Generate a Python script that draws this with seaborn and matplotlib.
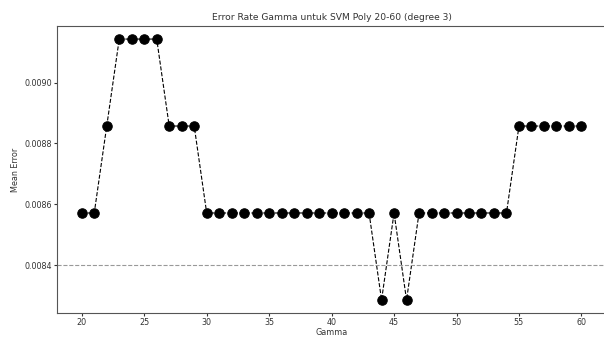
import matplotlib
matplotlib.use("Agg")
import matplotlib.pyplot as plt
import seaborn as sns
import pandas as pd

gamma = list(range(20, 61))
# misclassified counts out of 3500 test samples
errors = [30, 30, 31, 32, 32, 32, 32, 31, 31, 31,
          30, 30, 30, 30, 30, 30, 30, 30, 30, 30,
          30, 30, 30, 30, 29, 30, 29, 30, 30, 30,
          30, 30, 30, 30, 30, 31, 31, 31, 31, 31, 31]
mean_error = [e / 3500 for e in errors]
ref_line = 0.0084

df = pd.DataFrame({'Gamma': gamma, 'Mean Error': mean_error})

sns.set_style('white')
plt.rcParams['font.family'] = ['DejaVu Sans']
fig = plt.figure(figsize=(6.04, 3.38), dpi=100)
ax = fig.add_axes([0.094, 0.074, 0.91, 0.849])

sns.lineplot(data=df, x='Gamma', y='Mean Error', ax=ax, color='black',
             linestyle='--', linewidth=0.8, marker='o', markersize=6.8,
             markerfacecolor='black', markeredgecolor='black')
ax.axhline(ref_line, color='#999999', linestyle='--', linewidth=0.8)

ax.set_title('Error Rate Gamma untuk SVM Poly 20-60 (degree 3)', fontsize=6.6, color='#333333', pad=4)
ax.set_xlabel('Gamma', fontsize=5.8, color='#333333', labelpad=1)
ax.set_ylabel('Mean Error', fontsize=5.8, color='#333333', labelpad=3)
ax.set_yticks([0.0084, 0.0086, 0.0088, 0.0090])
ax.set_yticklabels(['0.0084', '0.0086', '0.0088', '0.0090'])
ax.tick_params(labelsize=5.8, colors='#333333', length=2, pad=1.5, left=True, bottom=True)
for s in ax.spines.values():
    s.set_color('#555555')
    s.set_linewidth(0.8)

fig.savefig('out.png', dpi=100)
